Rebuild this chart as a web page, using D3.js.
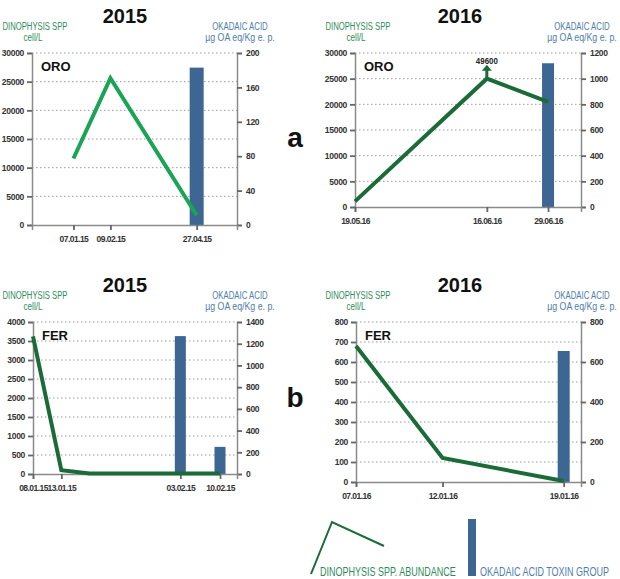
<!DOCTYPE html>
<html><head><meta charset="utf-8">
<script src="https://cdn.jsdelivr.net/npm/d3@7"></script>
<style>body{margin:0;background:#fff}</style></head>
<body><svg id="c" width="620" height="579"></svg>
<script>
// ---------- DATA ----------
// a) ORO 2015
const a15Dates = ["07.01.15", "09.02.15", "27.04.15"];
const a15Cells = [11600, 25600, 1700];
const a15ToxinDates = ["27.04.15"];
const a15Toxin = [183];
const a15Ticks = ["07.01.15", "09.02.15", "27.04.15"];
// a) ORO 2016
const a16Dates = ["19.05.16", "16.06.16", "29.06.16"];
const a16Cells = [1100, 49600, 20500];
const a16ToxinDates = ["29.06.16"];
const a16Toxin = [1120];
const a16Ticks = ["19.05.16", "16.06.16", "29.06.16"];
// b) FER 2015
const b15Dates = ["08.01.15", "13.01.15", "18.01.15", "03.02.15", "10.02.15"];
const b15Cells = [3620, 100, 15, 15, 15];
const b15ToxinDates = ["03.02.15", "10.02.15"];
const b15Toxin = [1270, 250];
const b15Ticks = ["08.01.15", "13.01.15", "03.02.15", "10.02.15"];
// b) FER 2016
const b16Dates = ["07.01.16", "12.01.16", "19.01.16"];
const b16Cells = [680, 120, 5];
const b16ToxinDates = ["19.01.16"];
const b16Toxin = [655];
const b16Ticks = ["07.01.16", "12.01.16", "19.01.16"];

const leftTitle = ["DINOPHYSIS SPP", "cell/L"];
const rightTitle = ["OKADAIC ACID", "µg OA eq/Kg e. p."];
const legendLabels = ["DINOPHYSIS SPP. ABUNDANCE", "OKADAIC ACID TOXIN GROUP"];

// ---------- STYLE ----------
const parse = d3.timeParse("%d.%m.%y");
const GREEN_TXT = "#2f8a5c", BLUE_TXT = "#4f7ea8", BAR = "#3d6792";
const DARK_LINE = "#1b6b38", BRIGHT_LINE = "#1aa456";
const AXIS = "#8a8a8a";
const SANS = "'Liberation Sans',Arial,sans-serif";

const svg = d3.select("#c");

// condensed text helper
function ntext(parent, x, y, s, o) {
  return parent.append("text")
    .attr("transform", `translate(${x},${y}) scale(${o.sx || 0.82},1)`)
    .attr("text-anchor", o.anchor || "middle")
    .attr("font-family", SANS).attr("font-size", o.size || 10)
    .attr("font-weight", o.weight || "normal")
    .attr("fill", o.fill || "#222").text(s);
}

function panel(cfg) {
  const g = svg.append("g");
  const x = d3.scaleTime().domain(cfg.xDomain.map(parse)).range([cfg.l, cfg.r]);
  const y = d3.scaleLinear().domain([0, cfg.yMax]).range([cfg.b, cfg.t]);
  const y2 = d3.scaleLinear().domain([0, cfg.rMax]).range([cfg.b, cfg.t]);
  const yTicks = d3.range(0, cfg.yMax + 1e-9, cfg.yStep);
  const rTicks = d3.range(0, cfg.rMax + 1e-9, cfg.rStep);

  // gridlines
  g.selectAll(".grid").data(yTicks.filter(v => v > 0)).join("line")
    .attr("x1", cfg.l).attr("x2", cfg.r).attr("y1", d => y(d)).attr("y2", d => y(d))
    .attr("stroke", "#9a9a9a").attr("stroke-width", 1).attr("stroke-dasharray", "1.5,2.5");

  // bars
  const bars = cfg.toxinDates.map((d, i) => ({ d: parse(d), v: cfg.toxin[i] }));
  g.selectAll(".bar").data(bars).join("rect")
    .attr("x", d => x(d.d) - cfg.bw / 2).attr("width", cfg.bw)
    .attr("y", d => y2(d.v)).attr("height", d => cfg.b - y2(d.v))
    .attr("fill", BAR);

  // axes
  const fmt = d3.format("d");
  const axL = d3.axisLeft(y).tickValues(yTicks).tickSize(5).tickPadding(3).tickFormat(fmt);
  const axR = d3.axisRight(y2).tickValues(rTicks).tickSize(5).tickPadding(4).tickFormat(fmt);
  const axB = d3.axisBottom(x).tickValues(cfg.ticks.map(parse)).tickSize(5)
    .tickFormat(d3.timeFormat("%d.%m.%y")).tickPadding(6);
  [[axL, `translate(${cfg.l},0)`], [axR, `translate(${cfg.r},0)`], [axB, `translate(0,${cfg.b})`]]
    .forEach(([ax, tr], k) => {
      const a = g.append("g").attr("transform", tr).call(ax);
      a.select(".domain").attr("stroke", AXIS).attr("stroke-width", 1.5);
      a.selectAll(".tick line").attr("stroke", "#666").attr("stroke-width", 1.8);
      a.selectAll("text").attr("font-family", SANS).attr("font-weight", "bold")
        .attr("font-size", 8.5).attr("fill", "#333")
        .attr("letter-spacing", k === 2 ? -0.55 : -0.3);
    });

  // line
  const pts = cfg.dates.map((d, i) => ({ d: parse(d), v: cfg.cells[i] }));
  const cap = cfg.cap || cfg.yMax;
  const line = d3.line().x(d => x(d.d)).y(d => y(Math.min(d.v, cap)));
  g.append("path").datum(pts).attr("d", line).attr("fill", "none")
    .attr("stroke", cfg.lineColor).attr("stroke-width", 4).attr("stroke-linejoin", "miter");

  // overflow arrow
  pts.filter(p => p.v > cap).forEach(p => {
    const px = x(p.d), py = y(cap);
    g.append("line").attr("x1", px).attr("x2", px).attr("y1", py).attr("y2", py - 9)
      .attr("stroke", cfg.lineColor).attr("stroke-width", 3);
    g.append("path").attr("d", `M${px - 5},${py - 8}L${px + 5},${py - 8}L${px},${py - 14}Z`)
      .attr("fill", cfg.lineColor);
    ntext(g, px, py - 15, fmt(p.v), { size: 9, weight: "bold", sx: 0.88 });
  });

  // titles
  g.append("text").attr("x", cfg.titleX).attr("y", cfg.t - 30).attr("text-anchor", "middle")
    .attr("font-family", SANS).attr("font-weight", "bold").attr("font-size", 20)
    .attr("fill", "#111").text(cfg.title);
  ntext(g, cfg.ltX, cfg.t - 23, leftTitle[0], { size: 11, sx: 0.7, fill: GREEN_TXT });
  ntext(g, cfg.ltX - 2, cfg.t - 12, leftTitle[1], { size: 11, sx: 0.74, fill: GREEN_TXT });
  ntext(g, cfg.rtX, cfg.t - 23, rightTitle[0], { size: 11, sx: 0.71, fill: BLUE_TXT });
  ntext(g, cfg.rtX, cfg.t - 12, rightTitle[1], { size: 11, sx: 0.8, fill: BLUE_TXT });
  g.append("text").attr("x", cfg.l + 9).attr("y", cfg.t + 18)
    .attr("font-family", SANS).attr("font-weight", "bold").attr("font-size", 13)
    .attr("fill", "#111").text(cfg.site);
}

panel({ dates: a15Dates, cells: a15Cells, toxinDates: a15ToxinDates, toxin: a15Toxin, ticks: a15Ticks,
  xDomain: ["01.12.14", "02.06.15"], l: 32, r: 237, t: 53, b: 225,
  yMax: 30000, yStep: 5000, rMax: 200, rStep: 40, bw: 14, lineColor: BRIGHT_LINE,
  title: "2015", titleX: 125, ltX: 35, rtX: 240, site: "ORO" });
panel({ dates: a16Dates, cells: a16Cells, toxinDates: a16ToxinDates, toxin: a16Toxin, ticks: a16Ticks,
  xDomain: ["19.05.16", "06.07.16"], l: 355, r: 581, t: 53, b: 207, cap: 25000,
  yMax: 30000, yStep: 5000, rMax: 1200, rStep: 200, bw: 12, lineColor: DARK_LINE,
  title: "2016", titleX: 460, ltX: 358, rtX: 582, site: "ORO" });
panel({ dates: b15Dates, cells: b15Cells, toxinDates: b15ToxinDates, toxin: b15Toxin, ticks: b15Ticks,
  xDomain: ["08.01.15", "13.02.15"], l: 33, r: 237, t: 322, b: 474,
  yMax: 4000, yStep: 500, rMax: 1400, rStep: 200, bw: 11, lineColor: DARK_LINE,
  title: "2015", titleX: 125, ltX: 35, rtX: 240, site: "FER" });
panel({ dates: b16Dates, cells: b16Cells, toxinDates: b16ToxinDates, toxin: b16Toxin, ticks: b16Ticks,
  xDomain: ["07.01.16", "20.01.16"], l: 356, r: 581, t: 322, b: 482,
  yMax: 800, yStep: 100, rMax: 800, rStep: 200, bw: 12, lineColor: DARK_LINE,
  title: "2016", titleX: 460, ltX: 358, rtX: 582, site: "FER" });

// panel letters
[["a", 295, 147], ["b", 295, 407]].forEach(([s, px, py]) =>
  svg.append("text").attr("x", px).attr("y", py).attr("text-anchor", "middle")
    .attr("font-family", SANS).attr("font-weight", "bold").attr("font-size", 28)
    .attr("fill", "#111").text(s));

// legend
const lg = svg.append("g");
lg.append("path").attr("d", d3.line()([[311, 574], [332, 522], [384, 546]]))
  .attr("fill", "none").attr("stroke", DARK_LINE).attr("stroke-width", 2);
ntext(lg, 320, 576, legendLabels[0], { size: 12, sx: 0.75, anchor: "start", fill: GREEN_TXT });
lg.append("rect").attr("x", 468).attr("y", 519).attr("width", 8).attr("height", 57).attr("fill", BAR);
ntext(lg, 480, 576, legendLabels[1], { size: 12, sx: 0.75, anchor: "start", fill: BLUE_TXT });
</script></body></html>
